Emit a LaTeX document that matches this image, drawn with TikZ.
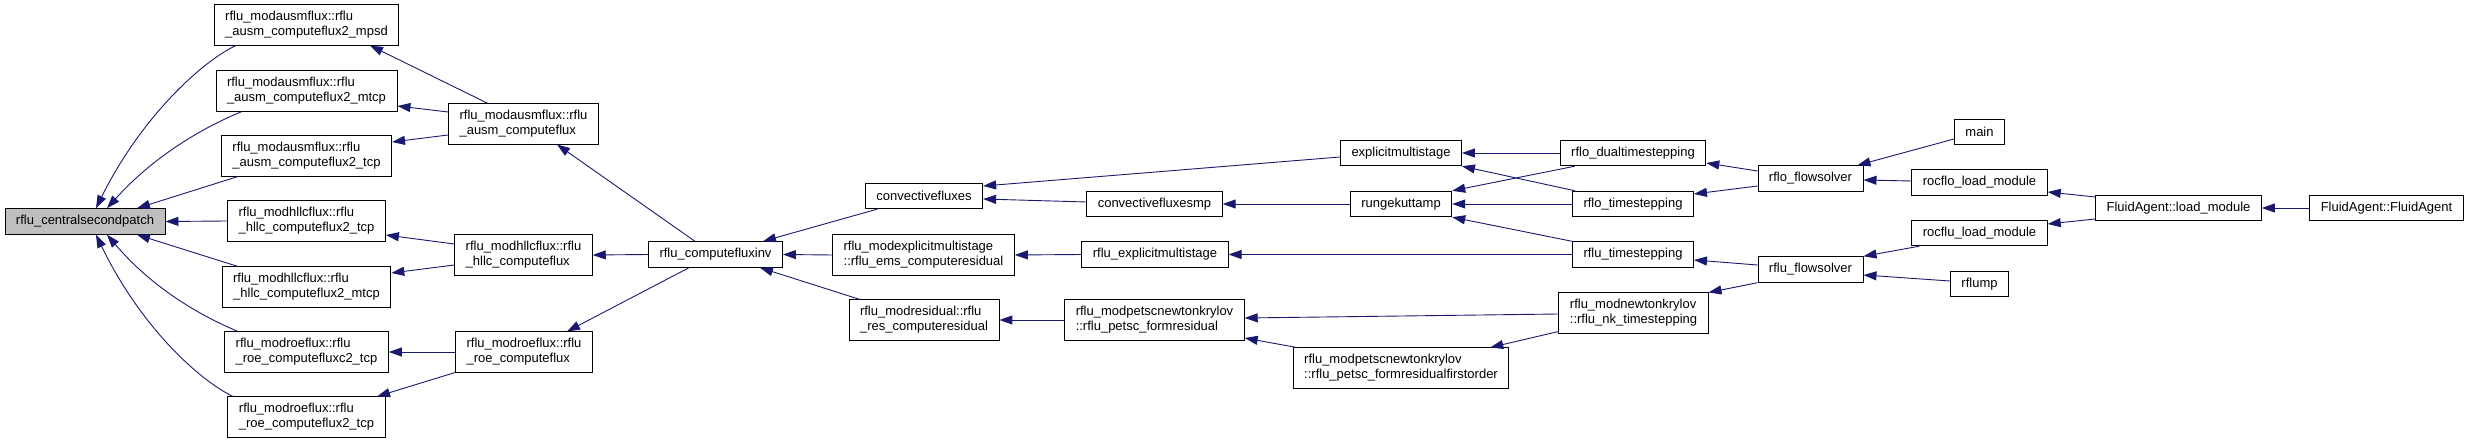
\documentclass[tikz,border=0pt]{standalone}
\usepackage{fontspec}
\setmainfont{Liberation Sans}
\usetikzlibrary{arrows.meta,calc}
\definecolor{edgeblue}{RGB}{25,25,112}
\definecolor{callgrey}{RGB}{191,191,191}

\begin{document}
\begin{tikzpicture}[
			x=1pt, y=-1pt,
			box/.style={rectangle, draw=black, fill=white, line width=0.9pt, inner xsep=11pt, inner ysep=6.5pt, minimum height=25.5pt, align=left, font=\fontsize{13}{15}\selectfont},
			arrow/.style={{Triangle[length=13pt,width=9pt]}-, draw=edgeblue, line width=0.9pt}
			]
			\useasboundingbox (0,0) rectangle (2469,443);
			% Nodes
			\node[box, fill=callgrey] (central) at (85,221.5) {rflu\_centralsecondpatch};
			\node[box] (ausmmpsd) at (306.5,25) {rflu\_modausmflux::rflu\\\_ausm\_computeflux2\_mpsd};
			\node[box] (ausmmtcp) at (306.5,91) {rflu\_modausmflux::rflu\\\_ausm\_computeflux2\_mtcp};
			\node[box] (ausmtcp) at (306.5,156) {rflu\_modausmflux::rflu\\\_ausm\_computeflux2\_tcp};
			\node[box] (hllctcp) at (306.5,221) {rflu\_modhllcflux::rflu\\\_hllc\_computeflux2\_tcp};
			\node[box] (hllcmtcp) at (306.5,287) {rflu\_modhllcflux::rflu\\\_hllc\_computeflux2\_mtcp};
			\node[box] (roecxtcp) at (306.5,352) {rflu\_modroeflux::rflu\\\_roe\_computefluxc2\_tcp};
			\node[box] (roetcp) at (306.5,417) {rflu\_modroeflux::rflu\\\_roe\_computeflux2\_tcp};
			\node[box] (ausmflux) at (523.5,124) {rflu\_modausmflux::rflu\\\_ausm\_computeflux};
			\node[box] (hllcflux) at (523.5,255) {rflu\_modhllcflux::rflu\\\_hllc\_computeflux};
			\node[box] (roeflux) at (524,352) {rflu\_modroeflux::rflu\\\_roe\_computeflux};
			\node[box] (fluxinv) at (715.5,254.5) {rflu\_computefluxinv};
			\node[box] (convflux) at (924,196) {convectivefluxes};
			\node[box] (emsres) at (923.5,255) {rflu\_modexplicitmultistage\\::rflu\_ems\_computeresidual};
			\node[box] (resres) at (924,320) {rflu\_modresidual::rflu\\\_res\_computeresidual};
			\node[box] (convfluxmp) at (1154.5,204) {convectivefluxesmp};
			\node[box] (rfluems) at (1155,254.5) {rflu\_explicitmultistage};
			\node[box] (petscres) at (1154.5,320) {rflu\_modpetscnewtonkrylov\\::rflu\_petsc\_formresidual};
			\node[box] (expms) at (1401,153) {explicitmultistage};
			\node[box] (rkmp) at (1401,204) {rungekuttamp};
			\node[box] (petscfo) at (1401,368) {rflu\_modpetscnewtonkrylov\\::rflu\_petsc\_formresidualfirstorder};
			\node[box] (rflodual) at (1633,153) {rflo\_dualtimestepping};
			\node[box] (rflots) at (1633,204) {rflo\_timestepping};
			\node[box] (rfluts) at (1633,254.5) {rflu\_timestepping};
			\node[box] (nkts) at (1633.5,313) {rflu\_modnewtonkrylov\\::rflu\_nk\_timestepping};
			\node[box] (rflofs) at (1810.5,178.5) {rflo\_flowsolver};
			\node[box] (rflufs) at (1810.5,269.5) {rflu\_flowsolver};
			\node[box] (main) at (1979.5,132) {main};
			\node[box] (rocflo) at (1979.5,182.5) {rocflo\_load\_module};
			\node[box] (rocflu) at (1979.5,233) {rocflu\_load\_module};
			\node[box] (rflump) at (1979.5,284) {rflump};
			\node[box] (faload) at (2178.5,208) {FluidAgent::load\_module};
			\node[box] (faagent) at (2386.5,208) {FluidAgent::FluidAgent};
			
			% Arrows
			\draw[arrow] ($(central.north)+(11,0)$) .. controls +(44,-89) and +(-36,17) .. ($(ausmmpsd.south)+(-70.5,0)$);
			\draw[arrow] ($(central.north)+(22,0)$) .. controls +(53,-59) and +(-27,11) .. ($(ausmmtcp.south)+(-64.5,0)$);
			\draw[arrow] ($(central.north)+(52,0)$) -- ($(ausmtcp.south)+(-68.5,0)$);
			\draw[arrow] (central.east) -- (hllctcp.west);
			\draw[arrow] ($(central.south)+(52,0)$) -- ($(hllcmtcp.north)+(-68.5,0)$);
			\draw[arrow] ($(central.south)+(22,0)$) .. controls +(51,60) and +(-26,-11) .. ($(roecxtcp.north)+(-68.5,0)$);
			\draw[arrow] ($(central.south)+(11,0)$) .. controls +(44,91) and +(-35,-17) .. ($(roetcp.north)+(-73.5,0)$);
			
			\draw[arrow] ($(ausmmpsd.south)+(63.5,0)$) -- ($(ausmflux.north)+(-35.5,0)$);
			\draw[arrow] ($(ausmmtcp.east)+(0,15)$) -- ($(ausmflux.west)+(0,-12)$);
			\draw[arrow] ($(ausmtcp.east)+(0,-14)$) -- ($(ausmflux.west)+(0,11)$);
			\draw[arrow] ($(hllctcp.east)+(0,14)$) -- ($(hllcflux.west)+(0,-11)$);
			\draw[arrow] ($(hllcmtcp.east)+(0,-14)$) -- ($(hllcflux.west)+(0,10)$);
			\draw[arrow] (roecxtcp.east) -- (roeflux.west);
			\draw[arrow] ($(roetcp.north)+(70.5,0)$) -- (roeflux.south west);
			
			\draw[arrow] ($(ausmflux.south)+(33.5,0)$) -- ($(fluxinv.north)+(-20.5,0)$);
			\draw[arrow] (hllcflux.east) -- (fluxinv.west);
			\draw[arrow] ($(roeflux.north)+(43,0)$) -- ($(fluxinv.south)+(-26.5,0)$);
			
			\draw[arrow] ($(fluxinv.north)+(47.5,0)$) -- ($(convflux.south)+(-47,0)$);
			\draw[arrow] (fluxinv.east) -- (emsres.west);
			\draw[arrow] ($(fluxinv.south)+(44.5,0)$) -- ($(resres.north)+(-64,0)$);
			
			\draw[arrow] ($(convflux.east)+(0,-10)$) -- ($(expms.west)+(0,4)$);
			\draw[arrow] ($(convflux.east)+(0,3)$) -- ($(convfluxmp.west)+(0,-2)$);
			\draw[arrow] (emsres.east) -- (rfluems.west);
			\draw[arrow] (resres.east) -- (petscres.west);
			
			\draw[arrow] (convfluxmp.east) -- (rkmp.west);
			\draw[arrow] (rfluems.east) -- (rfluts.west);
			\draw[arrow] ($(petscres.east)+(0,-2)$) -- ($(nkts.west)+(0,1)$);
			\draw[arrow] ($(petscres.east)+(0,18)$) -- ($(petscfo.north west)+(4,0)$);
			
			\draw[arrow] (expms.east) -- (rflodual.west);
			\draw[arrow] (expms.south east) -- ($(rflots.north west)+(3,0)$);
			\draw[arrow] (rkmp.north east) -- ($(rflodual.south west)+(15,0)$);
			\draw[arrow] (rkmp.east) -- (rflots.west);
			\draw[arrow] (rkmp.south east) -- (rfluts.north west);
			\draw[arrow] ($(petscfo.north east)+(-19,0)$) -- ($(nkts.south west)+(0,-2)$);
			
			\draw[arrow] ($(rflodual.east)+(0,10)$) -- ($(rflofs.west)+(0,-7.5)$);
			\draw[arrow] ($(rflots.east)+(0,-10)$) -- ($(rflofs.west)+(0,7.5)$);
			\draw[arrow] ($(rfluts.east)+(0,5.5)$) -- ($(rflufs.west)+(0,-4.5)$);
			\draw[arrow] (nkts.north east) -- (rflufs.south west);
			
			\draw[arrow] ($(rflofs.north east)+(-6,0)$) -- ($(main.west)+(0,7)$);
			\draw[arrow] ($(rflofs.east)+(0,1.5)$) -- ($(rocflo.west)+(0,-1.5)$);
			\draw[arrow] (rflufs.north east) -- ($(rocflu.south west)+(8,0)$);
			\draw[arrow] ($(rflufs.east)+(0,5.5)$) -- ($(rflump.west)+(0,-3)$);
			
			\draw[arrow] ($(rocflo.east)+(0,9.5)$) -- ($(faload.west)+(0,-11)$);
			\draw[arrow] ($(rocflu.east)+(0,-9)$) -- ($(faload.west)+(0,11)$);
			\draw[arrow] (faload.east) -- (faagent.west);
		\end{tikzpicture}
\end{document}
